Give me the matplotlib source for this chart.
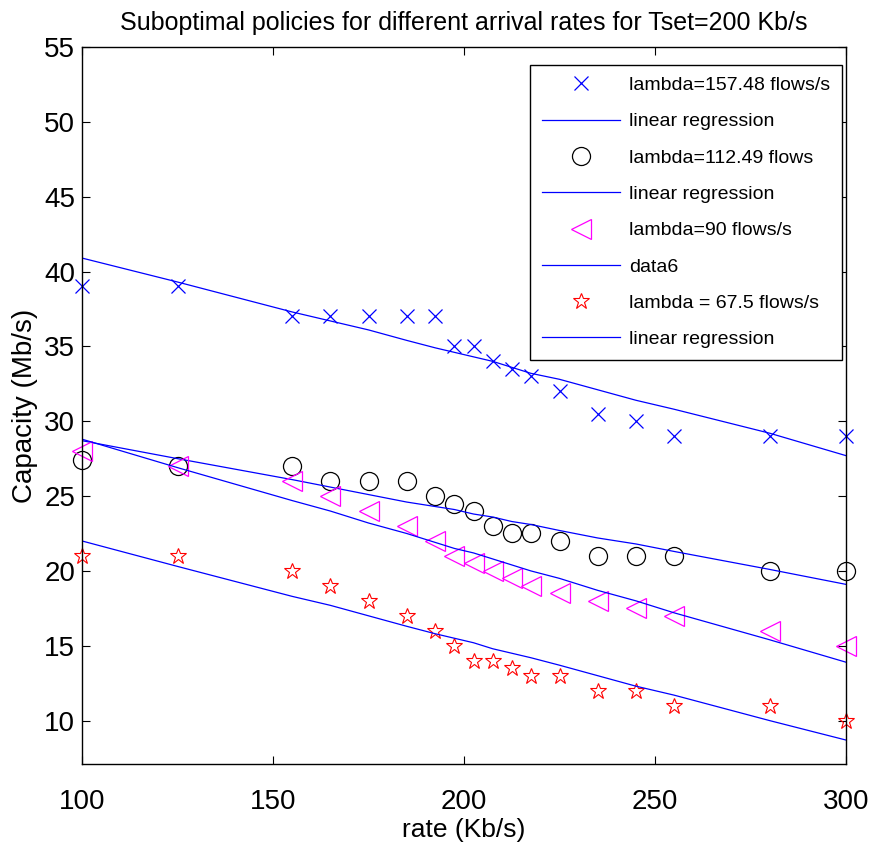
import matplotlib
matplotlib.use("Agg")
from matplotlib import pyplot as plt

plt.rcParams['font.family'] = ['Liberation Sans', 'DejaVu Sans']

rate = [100, 125, 155, 165, 175, 185, 192.5, 197.5, 202.5, 207.5, 212.5, 217.5, 225, 235, 245, 255, 280, 300]

cap_157 = [39, 39, 37, 37, 37, 37, 37, 35, 35, 34, 33.5, 33, 32, 30.5, 30, 29, 29, 29]
fit_157 = [40.9, 39.3, 37.3, 36.7, 36.1, 35.4, 34.9, 34.6, 34.3, 34.0, 33.6, 33.2, 32.8, 32.1, 31.4, 30.8, 29.2, 27.7]

cap_112 = [27.4, 27, 27, 26, 26, 26, 25, 24.5, 24, 23, 22.5, 22.5, 22, 21, 21, 21, 20, 20]
fit_112 = [28.7, 27.5, 26.1, 25.6, 25.1, 24.6, 24.3, 24.1, 23.8, 23.6, 23.3, 23.1, 22.7, 22.2, 21.8, 21.3, 20.1, 19.1]

cap_90 = [28, 27, 26, 25, 24, 23, 22, 21, 20.5, 20, 19.5, 19, 18.5, 18, 17.5, 17, 16, 15]
fit_90 = [28.8, 26.9, 24.7, 24.0, 23.2, 22.5, 21.9, 21.5, 21.2, 20.8, 20.4, 20.0, 19.5, 18.7, 18.0, 17.2, 15.4, 13.9]

cap_67 = [21, 21, 20, 19, 18, 17, 16, 15, 14, 14, 13.5, 13, 13, 12, 12, 11, 11, 10]
fit_67 = [22.0, 20.3, 18.3, 17.7, 17.0, 16.3, 15.8, 15.5, 15.2, 14.8, 14.5, 14.2, 13.7, 13.0, 12.3, 11.7, 10.0, 8.7]

labels = ["lambda=157.48 flows/s", "linear regression", "lambda=112.49 flows",
          "linear regression", "lambda=90 flows/s", "data6",
          "lambda = 67.5 flows/s", "linear regression"]

fig = plt.figure(figsize=(8.69, 8.52), dpi=100)
ax = fig.add_axes([82 / 869, 1 - 764 / 852, 764 / 869, 717 / 852])

lw = 0.9
ax.plot(rate, cap_157, 'x', color='blue', markersize=10, markeredgewidth=0.9, label=labels[0], clip_on=False)
ax.plot(rate, fit_157, '-', color='blue', linewidth=lw, label=labels[1])
ax.plot(rate, cap_112, 'o', color='black', markerfacecolor='none', markersize=13, markeredgewidth=0.9,
        label=labels[2], clip_on=False)
ax.plot(rate, fit_112, '-', color='blue', linewidth=lw, label=labels[3])
ax.plot(rate, cap_90, '<', color='magenta', markerfacecolor='none', markersize=14, markeredgewidth=0.9,
        label=labels[4], clip_on=False)
ax.plot(rate, fit_90, '-', color='blue', linewidth=lw, label=labels[5])
ax.plot(rate, cap_67, '*', color='red', markerfacecolor='none', markersize=12, markeredgewidth=0.8,
        label=labels[6], clip_on=False)
ax.plot(rate, fit_67, '-', color='blue', linewidth=lw, label=labels[7])

ax.set_xlim(100, 300)
ax.set_ylim(7.1, 55)
ax.set_xticks([100, 150, 200, 250, 300])
ax.set_yticks(range(10, 56, 5))
ax.tick_params(direction='in', top=True, right=True, length=6, labelsize=20, width=0.8)
ax.tick_params(axis='x', pad=18)
ax.tick_params(axis='y', pad=5)
for s in ax.spines.values():
    s.set_linewidth(1.0)

ax.set_title("Suboptimal policies for different arrival rates for Tset=200 Kb/s", fontsize=18, pad=12)
ax.set_xlabel("rate (Kb/s)", fontsize=19, labelpad=2)
ax.set_ylabel("Capacity (Mb/s)", fontsize=20, labelpad=4)

leg = ax.legend(loc='upper right', bbox_to_anchor=(0.995, 0.975), borderaxespad=0, fontsize=14,
                numpoints=1, handlelength=4.0, labelspacing=0.96, fancybox=False, framealpha=1,
                edgecolor='black', borderpad=0.6, handletextpad=0.5)
leg.get_frame().set_linewidth(1.0)

fig.savefig("out.png", dpi=100)
